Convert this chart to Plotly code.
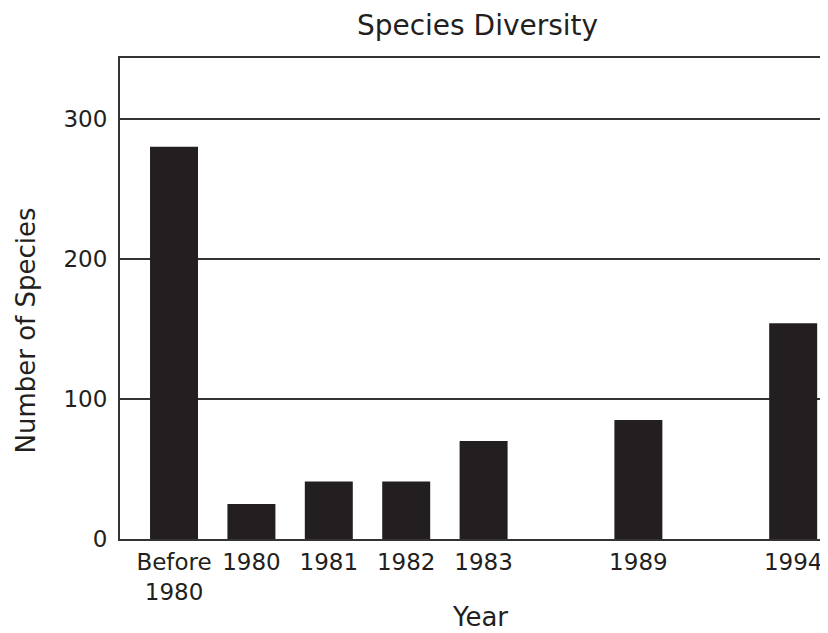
import plotly.graph_objects as go

# Data
years = ["Before<br>1980", "1980", "1981", "1982", "1983", "1989", "1994"]
species = [280, 25, 41, 41, 70, 85, 154]
# axis slots (blank slots mark the gaps in the time line)
category_order = ["Before<br>1980", "1980", "1981", "1982", "1983", " ", "1989", "  ", "1994"]
y_ticks = [0, 100, 200, 300]

FONT = "DejaVu Sans"
INK = "#231f20"
LINE = "#333333"

fig = go.Figure(
    go.Bar(
        x=years,
        y=species,
        width=0.62,
        marker=dict(color=INK, line=dict(width=0)),
        hoverinfo="x+y",
    )
)

W, H = 820, 625
ml, mr, mt, mb = 112, 0, 50, 94
plot_h = H - mt - mb

fig.update_layout(
    width=W,
    height=H,
    margin=dict(l=ml, r=mr, t=mt, b=mb, pad=0),
    paper_bgcolor="white",
    plot_bgcolor="white",
    showlegend=False,
    font=dict(family=FONT, color=INK),
    title=dict(
        text="Species Diversity",
        font=dict(family=FONT, size=28, color=INK),
        x=0.505,
        xref="paper",
        xanchor="center",
        y=1 - 17 / H,
        yref="container",
        yanchor="middle",
    ),
    xaxis=dict(
        type="category",
        categoryorder="array",
        categoryarray=category_order,
        range=[-0.698, 8.45],
        showline=True,
        linecolor=LINE,
        linewidth=2,
        mirror=True,
        showgrid=False,
        zeroline=False,
        ticks="",
        tickfont=dict(family=FONT, size=23, color=INK),
        ticklabelstandoff=1,
    ),
    yaxis=dict(
        range=[0, 343.3],
        tickvals=y_ticks,
        showline=True,
        linecolor=LINE,
        linewidth=2,
        showgrid=True,
        gridcolor=LINE,
        gridwidth=1.8,
        zeroline=False,
        ticks="",
        tickfont=dict(family=FONT, size=23, color=INK),
        ticklabelstandoff=6,
    ),
    annotations=[
        dict(
            text="Year",
            xref="paper", yref="paper",
            x=0.508, y=-78 / plot_h,
            xanchor="center", yanchor="middle",
            showarrow=False,
            font=dict(family=FONT, size=26, color=INK),
        ),
        dict(
            text="Number of Species",
            xref="paper", yref="paper",
            x=(25.5 - 120) / 708, y=208 / plot_h,
            xanchor="center", yanchor="middle",
            textangle=-90,
            showarrow=False,
            font=dict(family=FONT, size=26, color=INK),
        ),
    ],
)

fig.write_html("out.html")
